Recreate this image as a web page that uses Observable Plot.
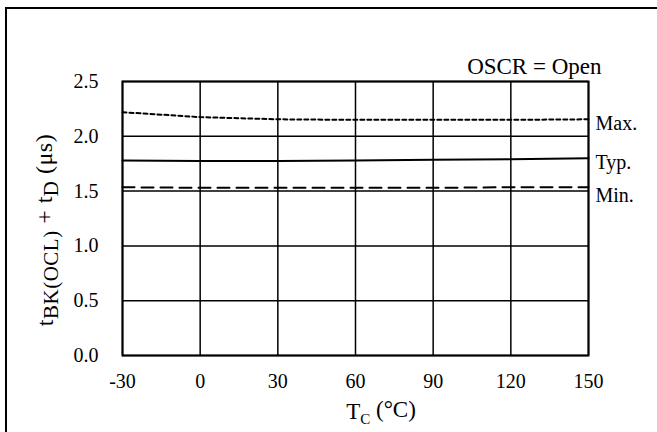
<!DOCTYPE html>
<html><head><meta charset="utf-8">
<script src="https://cdn.jsdelivr.net/npm/d3@7"></script>
<script src="https://cdn.jsdelivr.net/npm/@observablehq/plot@0.6"></script>
<style>
html,body{margin:0;padding:0;background:#fff;overflow:hidden}
#wrap{position:relative;width:657px;height:432px;overflow:hidden;background:#fff}
#border{position:absolute;left:5px;top:7px;width:700px;height:500px;border-left:2px solid #000;border-top:2px solid #000;box-sizing:border-box}
#chart{position:absolute;left:0;top:0}
</style></head><body>
<div id="wrap"><div id="border"></div><div id="chart"></div></div>
<script>
const temps = [-30, 0, 30, 60, 90, 120, 150];
const maxValues = [2.22, 2.175, 2.155, 2.15, 2.15, 2.15, 2.155];
const typValues = [1.78, 1.775, 1.775, 1.78, 1.785, 1.79, 1.80];
const minValues = [1.535, 1.53, 1.53, 1.53, 1.53, 1.535, 1.535];
const seriesNames = ["Max.", "Typ.", "Min."];
const xTicks = [-30, 0, 30, 60, 90, 120, 150];
const yTicks = [0, 0.5, 1.0, 1.5, 2.0, 2.5];
const noteText = "OSCR = Open";

const seriesValues = [maxValues, typValues, minValues];
const rows = seriesNames.flatMap((name, i) =>
  temps.map((t, j) => ({series: name, x: t, y: seriesValues[i][j]})));
const lastRows = seriesNames.map((name, i) => ({series: name, x: temps[temps.length - 1], y: seriesValues[i][temps.length - 1]}));

const dashes = {"Max.": "4,3", "Typ.": null, "Min.": "12,7"};
const labelDy = {"Max.": 4.5, "Typ.": 4, "Min.": 8};
const font = "'Liberation Serif', 'Times New Roman', serif";

const plot = Plot.plot({
  width: 657,
  height: 432,
  marginLeft: 122,
  marginRight: 69,
  marginTop: 81,
  marginBottom: 77,
  style: {fontFamily: font, fontSize: "20px", color: "#000", background: "transparent"},
  x: {domain: [-30, 150], ticks: xTicks},
  y: {domain: [0, 2.5], ticks: yTicks},
  marks: [
    Plot.gridX(xTicks, {stroke: "#000", strokeOpacity: 1, strokeWidth: 1.5}),
    Plot.gridY(yTicks, {stroke: "#000", strokeOpacity: 1, strokeWidth: 1.5}),
    ...seriesNames.map(name => Plot.line(rows.filter(d => d.series === name), {
      x: "x", y: "y", stroke: "#000", strokeWidth: 2, strokeDasharray: dashes[name]
    })),
    ...seriesNames.map(name => Plot.text(lastRows.filter(d => d.series === name), {
      x: "x", y: "y", text: "series", textAnchor: "start", lineAnchor: "middle",
      dx: 7, dy: labelDy[name], fontSize: 20, fill: "#000"
    })),
    Plot.frame({stroke: "#000", strokeWidth: 2}),
    Plot.axisX(xTicks, {tickSize: 0, tickPadding: 18, fontSize: 20, label: null, tickFormat: d => String(d)}),
    Plot.axisY(yTicks, {tickSize: 0, tickPadding: 24, fontSize: 20, label: null, tickFormat: d3.format(".1f")}),
    Plot.text([noteText], {frameAnchor: "top-right", text: d => d, textAnchor: "end", lineAnchor: "bottom", dx: 13, dy: -8, fontSize: 23, fill: "#000"})
  ]
});
document.getElementById("chart").appendChild(plot);

const svg = d3.select(plot);
// x-axis title T_C (°C)
const xt = svg.append("text")
  .attr("x", 381).attr("y", 419)
  .attr("text-anchor", "middle")
  .attr("font-family", font).attr("font-size", 23).attr("fill", "#000");
xt.append("tspan").text("T");
xt.append("tspan").attr("font-size", 15).attr("dy", "0.3em").text("C");
xt.append("tspan").attr("dy", "-0.3em").text("\u00a0(°C)");

// y-axis title
const yt = svg.append("text")
  .attr("transform", "translate(53,230) rotate(-90)")
  .attr("text-anchor", "middle")
  .attr("letter-spacing", "0.5px")
  .attr("font-family", font).attr("font-size", 24).attr("fill", "#000");
yt.append("tspan").text("t");
yt.append("tspan").attr("font-size", 21).attr("dy", "0.25em").text("BK(OCL)");
yt.append("tspan").attr("dy", "-0.25em").text(" + t");
yt.append("tspan").attr("font-size", 21).attr("dy", "0.25em").text("D");
yt.append("tspan").attr("dy", "-0.25em").text(" (μs)");
</script>
</body></html>
